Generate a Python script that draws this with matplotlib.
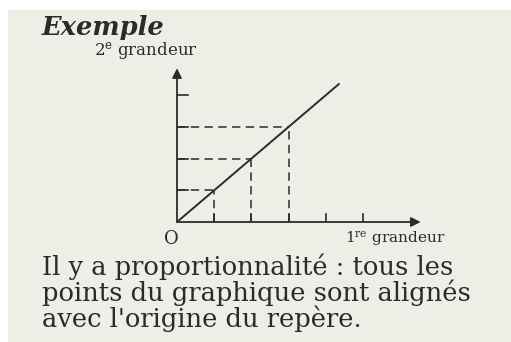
import matplotlib.pyplot as plt
from matplotlib.patches import Rectangle

plt.rcParams['mathtext.fontset'] = 'dejavuserif'

# valeurs du graphique (unités des grandeurs)
niveaux = [1, 2, 3]              # points repérés par les pointillés
ticks_x = [1, 2, 3, 4, 5]
ticks_y = [1, 2, 3, 4]
droite_x = [0, 4.35]
droite_y = [0, 4.35]             # proportionnalité : y = x

titre = "Exemple"
label_y = r"2$^{\mathrm{e}}$ grandeur"
label_x = r"1$^{\mathrm{re}}$ grandeur"
phrase = ["Il y a proportionnalité : tous les",
          "points du graphique sont alignés",
          "avec l'origine du repère."]

W, H = 511, 342
fond = '#efeee6'
encre = '#2b2b2b'

fig = plt.figure(figsize=(W / 100, H / 100), dpi=100, facecolor='white')
fig.patches.append(Rectangle((8 / W, 0), 1, (H - 10) / H, transform=fig.transFigure,
                             facecolor=fond, edgecolor='none', zorder=-5))

# repère : origine au pixel (177, 222), unités 37.2 px en x et 31.7 px en y
ux, uy = 37.2, 31.7
x0, y0 = 177, 222
xmax, ymax = 6.6, 4.9
ax = fig.add_axes([x0 / W, (H - y0) / H, xmax * ux / W, ymax * uy / H])
ax.set_xlim(0, xmax)
ax.set_ylim(0, ymax)
ax.axis('off')
ax.patch.set_alpha(0)

# axes avec flèches
ax.annotate('', xy=(6.55, 0), xytext=(0, 0),
            arrowprops=dict(arrowstyle='-|>', color=encre, lw=1.3,
                            mutation_scale=14, shrinkA=0, shrinkB=0),
            annotation_clip=False)
ax.annotate('', xy=(0, 4.85), xytext=(0, 0),
            arrowprops=dict(arrowstyle='-|>', color=encre, lw=1.3,
                            mutation_scale=14, shrinkA=0, shrinkB=0),
            annotation_clip=False)

# graduations
for t in ticks_x:
    ax.plot([t, t], [0, 0.25], color=encre, lw=1.2)
for t in ticks_y:
    ax.plot([0, 0.3], [t, t], color=encre, lw=1.2)

# pointillés
for k in niveaux:
    ax.plot([0, k], [k, k], color=encre, lw=1.1, ls=(0, (5.5, 3.5)))
    ax.plot([k, k], [0, k], color=encre, lw=1.1, ls=(0, (5.5, 3.5)))

# droite
ax.plot(droite_x, droite_y, color=encre, lw=1.4)

# textes
fig.text(42 / W, 1 - 28 / H, titre, fontsize=18.5, fontweight='bold', style='italic',
         family='DejaVu Serif', color=encre, va='center', ha='left')
fig.text(94 / W, 1 - 51 / H, label_y, fontsize=12, family='DejaVu Serif',
         color=encre, va='center', ha='left')
fig.text(171 / W, 1 - 239 / H, "O", fontsize=13, family='DejaVu Serif',
         color=encre, va='center', ha='center')
fig.text(345 / W, 1 - 240 / H, label_x, fontsize=11, family='DejaVu Serif',
         color=encre, va='center', ha='left')
for i, ligne in enumerate(phrase):
    fig.text(42 / W, 1 - (267 + 26 * i) / H, ligne, fontsize=18.5,
             family='DejaVu Serif', color=encre, va='center', ha='left')

fig.savefig('out.png', dpi=100, facecolor='white')
